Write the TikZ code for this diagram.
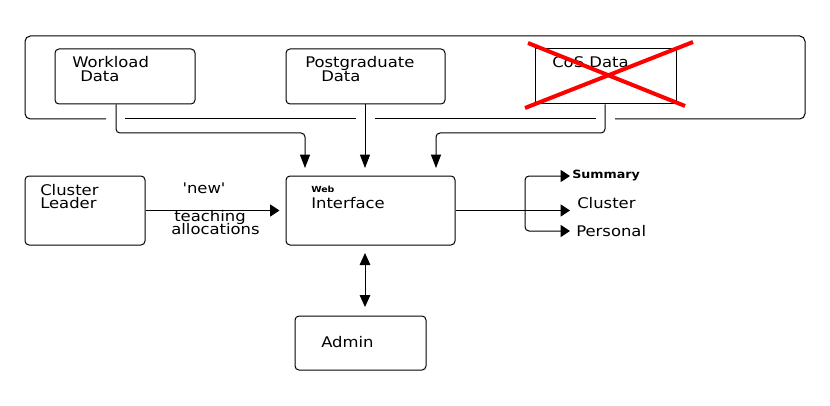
\documentclass[tikz,border=0pt]{standalone}
\usepackage{fontspec}
\setmainfont{DejaVu Sans}[Ligatures=TeXOff,FakeStretch=1.12]
\usetikzlibrary{arrows.meta}
\begin{document}
\begin{tikzpicture}[x=0.75pt,y=-0.75pt,
  box/.style={draw,line width=0.75pt,rounded corners=3pt,inner sep=0pt,minimum height=41.25pt},
  sqbox/.style={draw,line width=0.75pt,inner sep=0pt,minimum height=41.25pt},
  lbl/.style={anchor=base west,inner sep=0pt,font=\fontsize{11}{13}\selectfont},
  clbl/.style={anchor=base,inner sep=0pt,font=\fontsize{11}{13}\selectfont},
  olbl/.style={anchor=west,inner sep=0pt,font=\fontsize{11}{13}\selectfont},
  conn/.style={line width=0.75pt,rounded corners=3pt},
  vtip/.style={-{Triangle[length=10pt,width=7.5pt]}},
  htip/.style={-{Triangle[length=7pt,width=9pt]}},
  hdtip/.style={{Triangle[length=7pt,width=9pt]}-{Triangle[length=7pt,width=9pt]}},
  vdtip/.style={{Triangle[length=9pt,width=8pt]}-{Triangle[length=9pt,width=8pt]}}]
\useasboundingbox (0,0) rectangle (830,406);
% outer container
\draw[line width=0.75pt,rounded corners=4pt] (106,119) -- (25,119) -- (25,36) -- (805,36) -- (805,119) -- (615,119);
\draw[line width=0.75pt] (596,119) -- (375,119);
\draw[line width=0.75pt] (356,119) -- (125,119);
% boxes
\node[box,minimum width=105pt] (wl) at (125,76.5) {};
\node[box,minimum width=119.25pt] (pg) at (365.5,76.5) {};
\node[sqbox,minimum width=105.75pt] (cos) at (605.5,76.5) {};
\node[box,minimum width=90pt,minimum height=51.75pt] (cl) at (85,210.5) {};
\node[box,minimum width=126.75pt,minimum height=51.75pt] (web) at (370.5,210.5) {};
\node[box,minimum width=98.25pt,minimum height=40.5pt] (adm) at (360.5,343) {};
% texts
\node[lbl] (wl1) at (72,68) {Workload};
\node[lbl] (wl2) at (80,82) {Data};
\node[lbl] (pg1) at (305,68) {Postgraduate};
\node[lbl] (pg2) at (321,82) {Data};
\node[lbl] (cos1) at (552,68) {CoS Data};
\node[lbl] (cl1) at (40,195) {Cluster};
\node[lbl] (cl2) at (40,208) {Leader};
\node[lbl,font=\fontsize{6.3}{8}\bfseries] (web1) at (311,192) {Web};
\node[lbl] (web2) at (311,208) {Interface};
\node[lbl] (adm1) at (321,347) {Admin};
\node[clbl] (new) at (204,193) {'new'};
\node[clbl] (tch) at (210,221.5) {teaching};
\node[clbl] (all) at (215.5,234.5) {allocations};
\node[olbl,font=\fontsize{8.5}{10}\bfseries] (sum) at (572,176) {Summary};
\node[olbl] (clu) at (577,203) {Cluster};
\node[olbl] (per) at (576,231) {Personal};
% red cross
\draw[red,line width=3pt] (528,43) -- (685,106);
\draw[red,line width=3pt] (693,42) -- (525,108);
% connector coordinates
\coordinate (t1) at (305,168);
\coordinate (t2) at (365,168);
\coordinate (t3) at (436,168);
\coordinate (x116) at (116,0);
\coordinate (x365) at (365,0);
\coordinate (x605) at (605,0);
\coordinate (bx) at (525,0);
\coordinate (ox) at (570,0);
\coordinate (a1) at (365,253);
\coordinate (a2) at (365,307);
% connectors
\draw[conn,vtip] (wl.south -| x116) -- (116,133) -- (305,133) -- (t1);
\draw[conn,vtip] (pg.south -| x365) -- (t2);
\draw[conn,vtip] (cos.south -| x605) -- (605,133) -- (436,133) -- (t3);
\draw[conn,htip] (cl.east |- web.west) -- ([xshift=-4.5pt]web.west);
\draw[conn,htip] (web.east) -- (ox |- web.east);
\draw[conn,hdtip] (ox |- sum.west) -- (bx |- sum.west) -- (bx |- per.west) -- (ox |- per.west);
\draw[conn,vdtip] (a1) -- (a2);
\end{tikzpicture}
\end{document}
